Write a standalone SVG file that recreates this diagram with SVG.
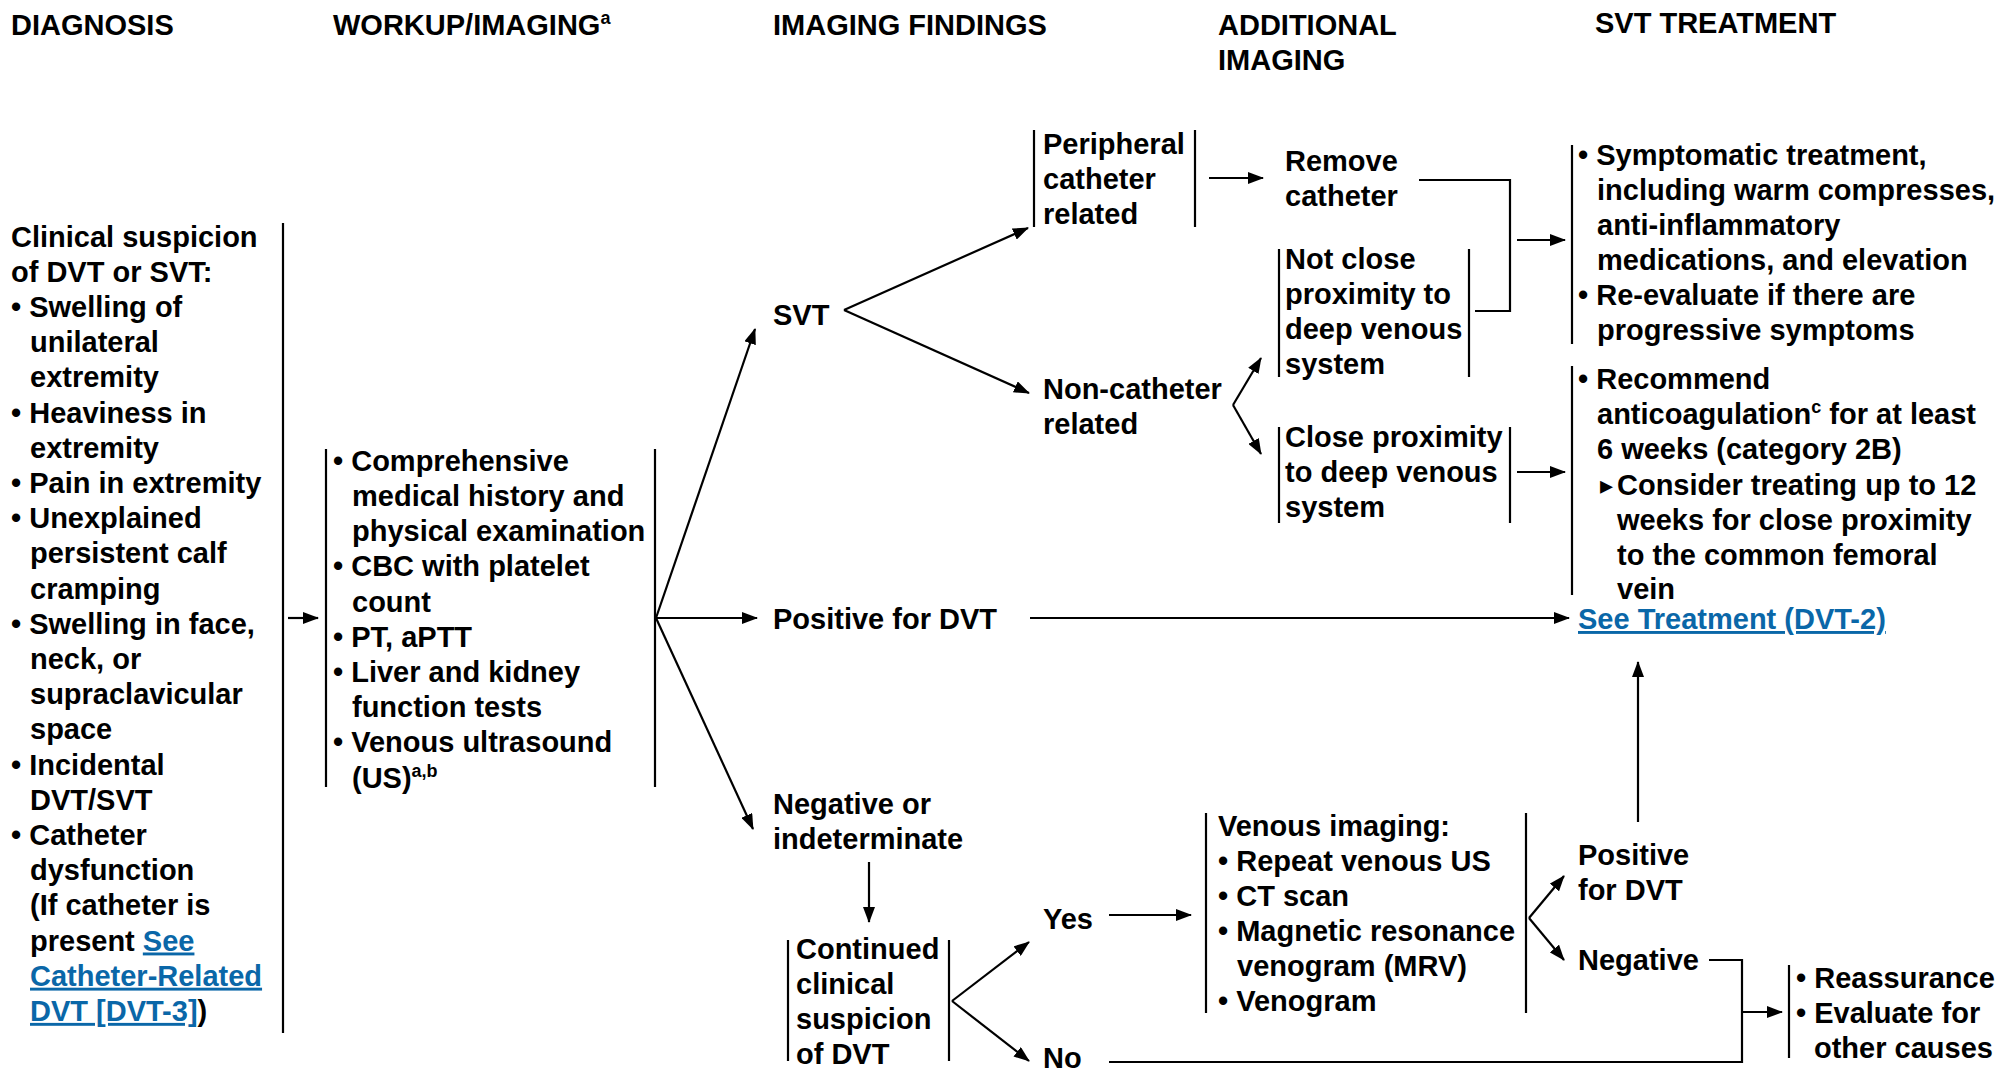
<svg xmlns="http://www.w3.org/2000/svg" width="1999" height="1075" viewBox="0 0 1999 1075">
<style>
text{font-family:"Liberation Sans",Arial,Helvetica,sans-serif;font-weight:bold;font-size:29px;fill:#000}
.lnk{fill:#0a67a8;text-decoration:underline}
.sup{font-size:18px}
.tri{font-family:"DejaVu Sans",sans-serif;font-size:26px}
.br{stroke:#000;stroke-width:2.2;fill:none}
.cn{stroke:#000;stroke-width:2.2;fill:none}
.ar{marker-end:url(#ah)}
</style>
<defs>
<marker id="ah" markerUnits="userSpaceOnUse" markerWidth="16" markerHeight="12" refX="15" refY="6" orient="auto">
<path d="M0,0 L16,6 L0,12 z" fill="#000"/>
</marker>
</defs>
<rect width="1999" height="1075" fill="#fff"/>

<g id="headers">
<text x="11" y="35">DIAGNOSIS</text>
<text x="333" y="35">WORKUP/IMAGING<tspan class="sup" dy="-11">a</tspan></text>
<text x="773" y="35">IMAGING FINDINGS</text>
<text x="1218" y="35">ADDITIONAL<tspan x="1218" y="70">IMAGING</tspan></text>
<text x="1595" y="33">SVT TREATMENT</text>
</g>

<g id="diagnosis">
<line class="br" x1="283" y1="223" x2="283" y2="1033"/>
<text x="11" y="246.5">Clinical suspicion<tspan x="11" y="281.7">of DVT or SVT:</tspan><tspan x="11" y="316.9">• Swelling of</tspan><tspan x="30" y="352.1">unilateral</tspan><tspan x="30" y="387.3">extremity</tspan><tspan x="11" y="422.5">• Heaviness in</tspan><tspan x="30" y="457.7">extremity</tspan><tspan x="11" y="492.9">• Pain in extremity</tspan><tspan x="11" y="528.1">• Unexplained</tspan><tspan x="30" y="563.3">persistent calf</tspan><tspan x="30" y="598.5">cramping</tspan><tspan x="11" y="633.7">• Swelling in face,</tspan><tspan x="30" y="668.9">neck, or</tspan><tspan x="30" y="704.1">supraclavicular</tspan><tspan x="30" y="739.3">space</tspan><tspan x="11" y="774.5">• Incidental</tspan><tspan x="30" y="809.7">DVT/SVT</tspan><tspan x="11" y="844.9">• Catheter</tspan><tspan x="30" y="880.1">dysfunction</tspan><tspan x="30" y="915.3">(If catheter is</tspan><tspan x="30" y="950.5">present </tspan><tspan class="lnk">See</tspan><tspan class="lnk" x="30" y="985.7">Catheter-Related</tspan><tspan class="lnk" x="30" y="1020.9">DVT [DVT-3]</tspan><tspan>)</tspan></text>
</g>

<g id="workup">
<line class="br" x1="326" y1="449" x2="326" y2="787"/>
<line class="br" x1="655" y1="449" x2="655" y2="787"/>
<text x="333" y="470.8">• Comprehensive<tspan x="352" y="506">medical history and</tspan><tspan x="352" y="541.2">physical examination</tspan><tspan x="333" y="576.4">• CBC with platelet</tspan><tspan x="352" y="611.6">count</tspan><tspan x="333" y="646.8">• PT, aPTT</tspan><tspan x="333" y="682">• Liver and kidney</tspan><tspan x="352" y="717.2">function tests</tspan><tspan x="333" y="752.4">• Venous ultrasound</tspan><tspan x="352" y="787.6">(US)</tspan><tspan class="sup" dy="-11">a,b</tspan></text>
</g>

<g id="svt"><text x="773" y="325">SVT</text></g>
<g id="positive-dvt"><text x="773" y="629">Positive for DVT</text></g>
<g id="negative-indeterminate"><text x="773" y="814">Negative or<tspan x="773" y="849">indeterminate</tspan></text></g>

<g id="peripheral">
<line class="br" x1="1034" y1="130" x2="1034" y2="227"/>
<line class="br" x1="1195" y1="130" x2="1195" y2="227"/>
<text x="1043" y="154">Peripheral<tspan x="1043" y="189">catheter</tspan><tspan x="1043" y="224">related</tspan></text>
</g>

<g id="non-catheter"><text x="1043" y="399">Non-catheter<tspan x="1043" y="434">related</tspan></text></g>

<g id="remove-catheter"><text x="1285" y="171">Remove<tspan x="1285" y="206">catheter</tspan></text></g>

<g id="not-close">
<line class="br" x1="1279" y1="249" x2="1279" y2="377"/>
<line class="br" x1="1469" y1="249" x2="1469" y2="377"/>
<text x="1285" y="269">Not close<tspan x="1285" y="304">proximity to</tspan><tspan x="1285" y="339">deep venous</tspan><tspan x="1285" y="374">system</tspan></text>
</g>

<g id="close">
<line class="br" x1="1279" y1="427" x2="1279" y2="523"/>
<line class="br" x1="1510" y1="427" x2="1510" y2="523"/>
<text x="1285" y="447">Close proximity<tspan x="1285" y="482">to deep venous</tspan><tspan x="1285" y="517">system</tspan></text>
</g>

<g id="symptomatic">
<line class="br" x1="1572" y1="145" x2="1572" y2="344"/>
<text x="1578" y="165">• Symptomatic treatment,<tspan x="1597" y="200">including warm compresses,</tspan><tspan x="1597" y="235">anti-inflammatory</tspan><tspan x="1597" y="270">medications, and elevation</tspan><tspan x="1578" y="305">• Re-evaluate if there are</tspan><tspan x="1597" y="340">progressive symptoms</tspan></text>
</g>

<g id="anticoag">
<line class="br" x1="1572" y1="366" x2="1572" y2="595"/>
<text x="1578" y="389">• Recommend<tspan x="1597" y="424">anticoagulation</tspan><tspan class="sup" dy="-11">c</tspan><tspan dy="11"> for at least</tspan><tspan x="1597" y="459">6 weeks (category 2B)</tspan><tspan x="1617" y="495">Consider treating up to 12</tspan><tspan x="1617" y="530">weeks for close proximity</tspan><tspan x="1617" y="565">to the common femoral</tspan><tspan x="1617" y="599">vein</tspan></text>
<text class="tri" x="1600" y="494">▸</text>
</g>

<g id="see-treatment"><text class="lnk" x="1578" y="629">See Treatment (DVT-2)</text></g>

<g id="continued">
<line class="br" x1="788" y1="940" x2="788" y2="1061"/>
<line class="br" x1="949" y1="940" x2="949" y2="1061"/>
<text x="796" y="959">Continued<tspan x="796" y="994">clinical</tspan><tspan x="796" y="1029">suspicion</tspan><tspan x="796" y="1064">of DVT</tspan></text>
</g>

<g id="yes"><text x="1043" y="929">Yes</text></g>
<g id="no"><text x="1043" y="1068">No</text></g>

<g id="venous-imaging">
<line class="br" x1="1206" y1="813" x2="1206" y2="1013"/>
<line class="br" x1="1526" y1="813" x2="1526" y2="1013"/>
<text x="1218" y="836">Venous imaging:<tspan x="1218" y="871">• Repeat venous US</tspan><tspan x="1218" y="906">• CT scan</tspan><tspan x="1218" y="941">• Magnetic resonance</tspan><tspan x="1237" y="976">venogram (MRV)</tspan><tspan x="1218" y="1011">• Venogram</tspan></text>
</g>

<g id="positive-2"><text x="1578" y="865">Positive<tspan x="1578" y="900">for DVT</tspan></text></g>
<g id="negative-2"><text x="1578" y="970">Negative</text></g>

<g id="reassurance">
<line class="br" x1="1789" y1="965" x2="1789" y2="1058"/>
<text x="1796" y="988">• Reassurance<tspan x="1796" y="1023">• Evaluate for</tspan><tspan x="1814" y="1058">other causes</tspan></text>
</g>

<g id="connectors">
<line class="cn ar" x1="288" y1="618" x2="318" y2="618"/>
<line class="cn ar" x1="656" y1="618" x2="755" y2="329"/>
<line class="cn ar" x1="656" y1="618" x2="757" y2="618"/>
<line class="cn ar" x1="656" y1="618" x2="753" y2="829"/>
<line class="cn ar" x1="844" y1="310" x2="1028" y2="228"/>
<line class="cn ar" x1="844" y1="310" x2="1029" y2="393"/>
<line class="cn ar" x1="1209" y1="178" x2="1263" y2="178"/>
<polyline class="cn" points="1419,180 1510,180 1510,311 1475,311"/>
<line class="cn ar" x1="1517" y1="240" x2="1565" y2="240"/>
<line class="cn ar" x1="1233" y1="405" x2="1261" y2="358"/>
<line class="cn ar" x1="1233" y1="405" x2="1261" y2="454"/>
<line class="cn ar" x1="1517" y1="472" x2="1565" y2="472"/>
<line class="cn ar" x1="1030" y1="618" x2="1569" y2="618"/>
<line class="cn ar" x1="869" y1="862" x2="869" y2="922"/>
<line class="cn ar" x1="952" y1="1001" x2="1029" y2="942"/>
<line class="cn ar" x1="952" y1="1001" x2="1029" y2="1061"/>
<line class="cn ar" x1="1109" y1="915" x2="1191" y2="915"/>
<line class="cn ar" x1="1529" y1="918" x2="1564" y2="876"/>
<line class="cn ar" x1="1529" y1="918" x2="1564" y2="960"/>
<line class="cn ar" x1="1638" y1="822" x2="1638" y2="662"/>
<polyline class="cn" points="1709,960 1742,960 1742,1062 1109,1062"/>
<line class="cn ar" x1="1742" y1="1012" x2="1782" y2="1012"/>
</g>
</svg>
